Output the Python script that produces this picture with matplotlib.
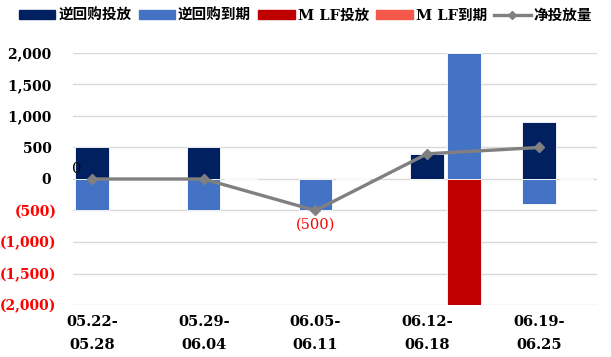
import numpy as np
import matplotlib.pyplot as plt
from matplotlib.lines import Line2D
from matplotlib.patches import Patch

plt.rcParams['font.family'] = ['DejaVu Serif', 'Noto Sans CJK SC']
plt.rcParams['font.weight'] = 'bold'

# 周度公开市场操作（亿元）
weeks = ["05.22-\n05.28", "05.29-\n06.04", "06.05-\n06.11", "06.12-\n06.18", "06.19-\n06.25"]
repo_in = [500, 500, 0, 400, 900]
repo_due = [-500, -500, -500, 0, -400]
mlf_in = [0, 0, 0, 2000, 0]
mlf_due = [0, 0, 0, -2000, 0]
net = [0, 0, -500, 400, 500]

c_repo_in = "#002060"
c_repo_due = "#4472C4"
c_mlf_in = "#C00000"
c_mlf_due = "#F4584B"
c_net = "#808080"

fig = plt.figure(figsize=(6.11, 3.57), dpi=100)
ax = fig.add_axes([73 / 611, 1 - 305 / 357, 524 / 611, 252 / 357])

x = np.arange(len(weeks))
w = 0.30
off = 0.33
ax.bar(x, repo_in, w, color=c_repo_in, edgecolor="white", linewidth=0.6, zorder=2)
ax.bar(x, repo_due, w, color=c_repo_due, edgecolor="white", linewidth=0.6, zorder=2)
# MLF 柱放在右侧
ax.bar(x + off, mlf_in, w, color=c_repo_due, edgecolor="white", linewidth=0.6, zorder=2)
ax.bar(x + off, mlf_due, w, color=c_mlf_in, edgecolor="white", linewidth=0.6, zorder=2)

ax.plot(x, net, color=c_net, lw=2.4, marker="D", ms=5, zorder=3)
ax.text(x[0] - 0.14, net[0] + 50, f"{net[0]:,}", fontsize=10.5, ha="center", va="bottom",
        fontweight="normal")
ax.text(x[2], net[2] - 110, f"({-net[2]:,})", fontsize=10.5, ha="center", va="top",
        color="red", fontweight="normal")

ax.set_ylim(-2000, 2000)
ax.set_xlim(-0.17, 4.52)
ticks = np.arange(-2000, 2001, 500)
ax.set_yticks(ticks)
ax.set_yticklabels([f"{t:,} " if t >= 0 else f"({-t:,})" for t in ticks], fontsize=10)
for lab, t in zip(ax.get_yticklabels(), ticks):
    if t < 0:
        lab.set_color("red")
ax.set_xticks(x)
ax.set_xticklabels(weeks, fontsize=10.5, linespacing=1.8)
ax.tick_params(length=0, axis="y", pad=12)
ax.tick_params(length=0, axis="x", pad=7)
ax.grid(axis="y", color="#D9D9D9", lw=1, zorder=0)
for s in ax.spines.values():
    s.set_visible(False)

handles = [
    Patch(color=c_repo_in, label="逆回购投放"),
    Patch(color=c_repo_due, label="逆回购到期"),
    Patch(color=c_mlf_in, label="M LF投放"),
    Patch(color=c_mlf_due, label="M LF到期"),
    Line2D([], [], color=c_net, lw=2.4, marker="D", ms=4, label="净投放量"),
]
fig.legend(handles=handles, loc="center", bbox_to_anchor=(0.5, 1 - 16 / 357), ncol=5,
           frameon=False, fontsize=10.5, handlelength=2.5, handleheight=0.55,
           columnspacing=0.5, handletextpad=0.2, borderaxespad=0)

fig.savefig("out.png", dpi=100)
